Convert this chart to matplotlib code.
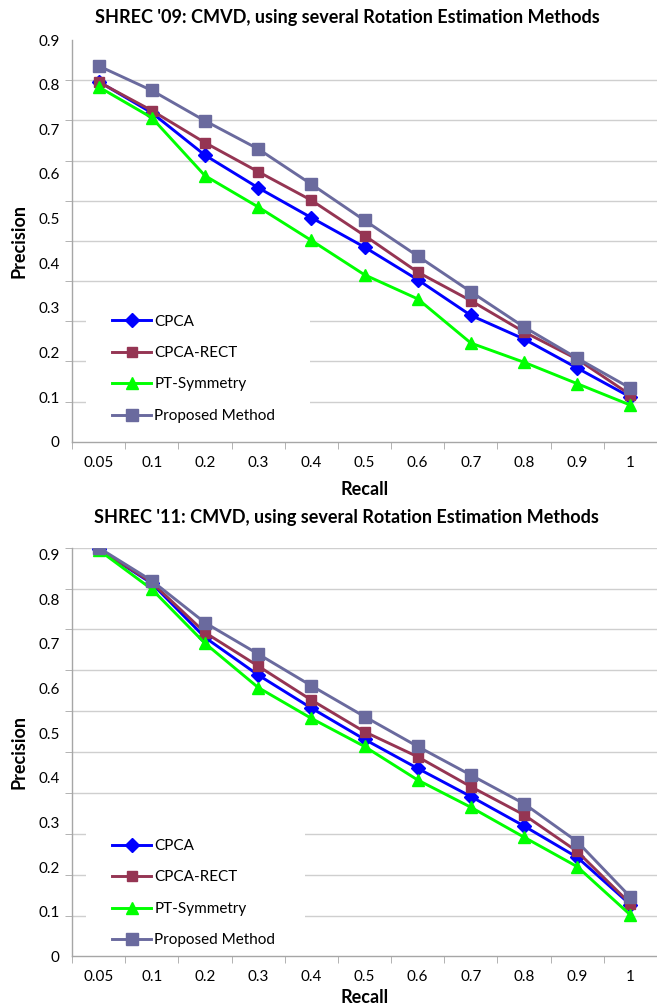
import matplotlib
matplotlib.use("Agg")
import matplotlib.pyplot as plt
from matplotlib.patches import Rectangle
import numpy as np

plt.rcParams['font.family'] = ['Lato', 'DejaVu Sans']

recall_labels = ['0.05', '0.1', '0.2', '0.3', '0.4', '0.5', '0.6', '0.7', '0.8', '0.9', '1']
series_names = ['CPCA', 'CPCA-RECT', 'PT-Symmetry', 'Proposed Method']

# SHREC '09 precision values
shrec09_cpca = [0.807, 0.737, 0.642, 0.569, 0.502, 0.436, 0.363, 0.283, 0.230, 0.165, 0.100]
shrec09_rect = [0.806, 0.742, 0.670, 0.605, 0.541, 0.462, 0.380, 0.316, 0.246, 0.185, 0.105]
shrec09_pt = [0.795, 0.726, 0.596, 0.526, 0.451, 0.374, 0.320, 0.221, 0.178, 0.130, 0.082]
shrec09_prop = [0.842, 0.787, 0.719, 0.656, 0.577, 0.496, 0.416, 0.336, 0.257, 0.187, 0.120]

# SHREC '11 precision values
shrec11_cpca = [0.912, 0.835, 0.714, 0.630, 0.556, 0.486, 0.421, 0.358, 0.292, 0.222, 0.116]
shrec11_rect = [0.913, 0.837, 0.725, 0.650, 0.574, 0.503, 0.447, 0.380, 0.317, 0.235, 0.118]
shrec11_pt = [0.910, 0.822, 0.701, 0.602, 0.533, 0.470, 0.395, 0.334, 0.267, 0.201, 0.093]
shrec11_prop = [0.915, 0.841, 0.747, 0.677, 0.606, 0.537, 0.470, 0.406, 0.342, 0.257, 0.133]

y_ticks = [0, 0.1, 0.2, 0.3, 0.4, 0.5, 0.6, 0.7, 0.8, 0.9]
y_tick_labels = ['0', '0.1', '0.2', '0.3', '0.4', '0.5', '0.6', '0.7', '0.8', '0.9']

colors = ['#0000FF', '#953553', '#00FF00', '#6A6A9E']
markers = ['D', 's', '^', 's']
msizes = [7.5, 7.5, 9, 8]
grid_color = '#CFCFCF'
axis_color = '#A6A6A6'


def draw_chart(ax, fig, series, title, top, title_y, legend_y, box, xlabel_y):
    x = np.arange(len(recall_labels))
    for vals, name, c, m, ms in zip(series, series_names, colors, markers, msizes):
        ax.plot(x, vals, '-', color=c, marker=m, markersize=ms, linewidth=2.1,
                markeredgecolor=c, label=name, zorder=3)

    ax.set_xlim(-0.5, len(recall_labels) - 0.5)
    ax.set_ylim(0, top)

    ax.set_xticks(x)
    ax.set_xticklabels(recall_labels, fontsize=11)
    ax.set_xticks(np.arange(len(recall_labels) + 1) - 0.5, minor=True)
    ax.tick_params(axis='x', which='major', length=0, pad=10)
    ax.tick_params(axis='x', which='minor', length=5, color=axis_color)

    ax.set_yticks(y_ticks)
    ax.set_yticklabels(y_tick_labels, fontsize=11)
    ax.set_yticks(np.linspace(0, top, 11), minor=True)
    ax.tick_params(axis='y', which='major', length=0, pad=9)
    ax.tick_params(axis='y', which='minor', length=5, color=axis_color)
    ax.grid(True, axis='y', which='minor', color=grid_color, linewidth=1, zorder=0)
    ax.set_axisbelow(True)

    for side in ['top', 'right']:
        ax.spines[side].set_visible(False)
    for side in ['left', 'bottom']:
        ax.spines[side].set_color(axis_color)
        ax.spines[side].set_linewidth(1)

    # white legend area hiding the gridlines, as in the Excel original
    ax.add_patch(Rectangle((box[0], box[1]), box[2], box[3], transform=ax.transAxes,
                           facecolor='white', edgecolor='none', zorder=1))

    ax.set_xlabel('Recall', fontsize=13, fontweight='bold')
    ax.xaxis.label.set_va('center')
    ax.xaxis.set_label_coords(0.5, xlabel_y)
    ax.set_ylabel('Precision', fontsize=13, fontweight='bold')
    ax.yaxis.label.set_va('center')
    ax.yaxis.set_label_coords(-0.09, 0.5)

    ax.legend(loc='lower left', bbox_to_anchor=(0.053, legend_y), fontsize=11,
              frameon=False, labelspacing=1.14, handlelength=2.55,
              handletextpad=0.2, borderpad=0.6, borderaxespad=0)

    fig.text(0.528, title_y, title, ha='center', va='center',
             fontsize=13, fontweight='bold')


fig = plt.figure(figsize=(6.57, 10.08), dpi=100)

ax1 = fig.add_axes([0.1096, 0.5618, 0.8904, 0.3985])
draw_chart(ax1, fig, [shrec09_cpca, shrec09_rect, shrec09_pt, shrec09_prop],
           "SHREC '09: CMVD, using several Rotation Estimation Methods", 0.9, 0.983,
           0.024, (0.024, 0.017, 0.383, 0.361), -0.118)

ax2 = fig.add_axes([0.1096, 0.0511, 0.8904, 0.4056])
draw_chart(ax2, fig, [shrec11_cpca, shrec11_rect, shrec11_pt, shrec11_prop],
           "SHREC '11: CMVD, using several Rotation Estimation Methods", 0.915, 0.4868,
           0.0, (0.024, 0.016, 0.374, 0.367), -0.100)

fig.savefig('out.png', dpi=100, facecolor='white')
